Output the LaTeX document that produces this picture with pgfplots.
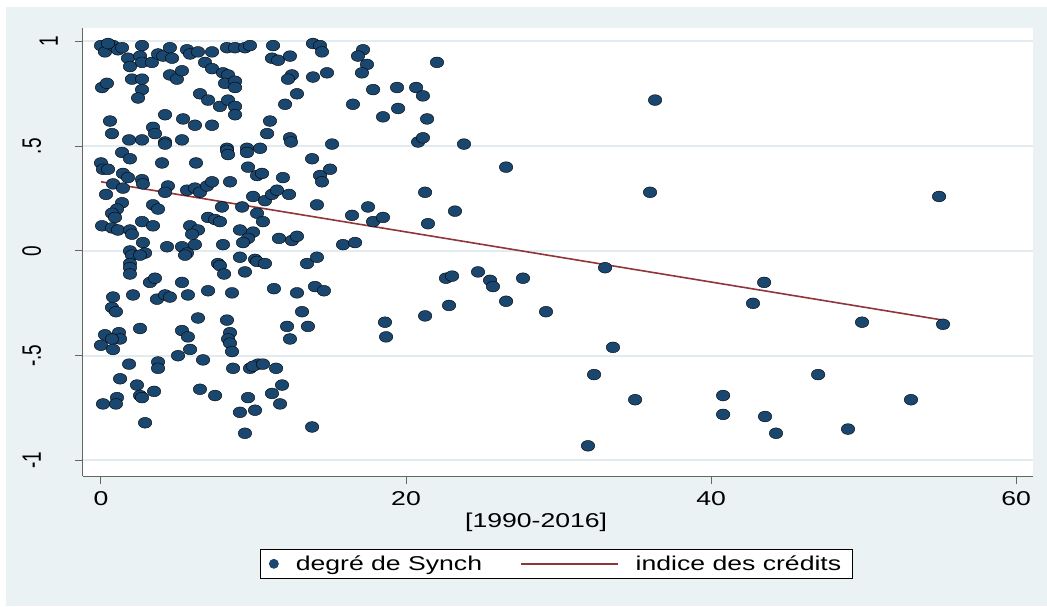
\documentclass[border=0pt]{standalone}
\usepackage{pgfplots}
\pgfplotsset{compat=1.18}
\usepackage{fontspec}
\usepackage{graphicx}
\setmainfont{Liberation Sans}[FakeStretch=1.33]
\newfontfamily\plainsans{Liberation Sans}
\definecolor{navy}{RGB}{26,71,111}
\definecolor{maroon}{RGB}{144,53,59}
\definecolor{bgc}{RGB}{234,242,243}
\definecolor{gridc}{RGB}{226,236,240}
\newcommand\yl[1]{\scalebox{1}[1.4]{#1}}
\begin{document}
\begin{tikzpicture}[x=1pt,y=1pt]
\fill[white] (-83,-130) rectangle (964,476);
\fill[bgc] (-77,-130) rectangle (964,469);
\useasboundingbox (-83,-130) rectangle (964,476);
\begin{axis}[
  at={(0pt,0pt)}, anchor=south west,
  scale only axis, width=950pt, height=448pt,
  xmin=-1.18, xmax=61.11, ymin=-1.074, ymax=1.064,
  axis background/.style={fill=white},
  axis x line*=bottom, axis y line*=left,
  axis line style={-, draw=black!60, line width=1pt},
  xtick={0,20,40,60}, xticklabels={0,20,40,60},
  ytick={-1,-0.5,0,0.5,1},
  yticklabels={\yl{-1},\yl{-.5},\yl{0},\yl{.5},\raisebox{-17pt}{\yl{1}}},
  tick align=outside, major tick length=8pt,
  tick style={black!60, line width=1pt},
  ymajorgrids, grid style={gridc, line width=2pt},
  xticklabel style={font=\fontsize{20}{24}\selectfont, yshift=-4pt},
  yticklabel style={font=\plainsans\fontsize{19}{23}\selectfont, xshift=-34pt, rotate=90, anchor=base},
  xlabel={\relax[1990-2016]},
  xlabel style={at={(axis description cs:0.477,0)}, anchor=center, yshift=-46pt, font=\fontsize{20}{24}\selectfont},
  legend style={at={(axis description cs:0.498,-0.196)}, anchor=center, draw=black, line width=0.8pt, fill=white,
    font=\fontsize{20}{24}\selectfont, inner xsep=9pt, inner ysep=4.5pt,
    /tikz/every odd column/.append style={column sep=15pt},
    /tikz/every even column/.append style={column sep=36pt}},
  legend columns=2,
  legend cell align=left,
]
\addplot[only marks, mark=*, mark size=5.4pt, mark options={draw=none, fill=navy, xscale=1.25},
  legend image code/.code={\fill[navy] (6pt,0pt) ellipse [x radius=4.5pt, y radius=4.5pt];}]
coordinates {
(0.00,0.98) (0.26,0.95) (0.79,0.98) (1.11,0.96) (2.69,0.98) (1.77,0.92) (1.90,0.88) (2.56,0.93)
(2.69,0.90) (3.34,0.90) (3.74,0.94) (4.07,0.93) (4.52,0.97) (4.66,0.92) (5.64,0.96) (5.84,0.94)
(6.36,0.95) (7.28,0.95) (6.82,0.90) (7.28,0.87) (8.26,0.97) (8.79,0.97) (9.44,0.97) (8.00,0.85)
(8.33,0.84) (8.13,0.80) (8.79,0.81) (8.79,0.78) (4.52,0.84) (4.98,0.82) (5.31,0.86) (0.07,0.78)
(0.39,0.80) (2.03,0.82) (2.69,0.82) (2.69,0.77) (2.43,0.73) (6.49,0.75) (7.02,0.72) (7.80,0.69)
(8.33,0.72) (8.79,0.69) (8.79,0.65) (4.20,0.65) (5.38,0.63) (6.16,0.60) (7.28,0.60) (0.59,0.62)
(0.72,0.56) (3.41,0.59) (3.54,0.56) (1.84,0.53) (2.69,0.53) (4.20,0.52) (5.31,0.53) (8.26,0.49)
(9.57,0.49) (1.38,0.97) (0.46,0.99)
(0.00,0.42) (0.13,0.39) (0.46,0.39) (1.38,0.47) (1.90,0.44) (1.44,0.37) (1.77,0.35) (2.69,0.34)
(2.75,0.32) (4.00,0.42) (6.23,0.42) (4.20,0.51) (8.26,0.48) (8.33,0.46) (9.57,0.47) (9.64,0.40)
(10.23,0.36) (0.79,0.32) (1.44,0.30) (0.33,0.27) (4.39,0.31) (4.20,0.28) (5.64,0.29) (6.16,0.30)
(6.49,0.28) (6.95,0.31) (7.28,0.33) (8.46,0.33) (7.93,0.21) (9.25,0.21) (9.97,0.26) (10.23,0.18)
(1.38,0.23) (1.05,0.20) (0.72,0.18) (0.92,0.16) (3.41,0.22) (3.74,0.20) (0.07,0.12) (0.72,0.11)
(1.11,0.10) (1.90,0.10) (2.03,0.08) (2.69,0.14) (3.41,0.12) (7.02,0.16) (7.48,0.15) (7.80,0.14)
(5.84,0.12) (6.36,0.10) (5.97,0.08) (9.11,0.10) (9.97,0.09) (9.64,0.06) (9.31,0.04) (2.75,0.04)
(4.33,0.02) (5.31,0.02) (6.16,0.03) (5.64,-0.01) (8.00,0.03) (1.90,0.00) (2.03,-0.02) (2.89,-0.01)
(2.56,-0.02) (9.11,-0.03) (10.10,-0.04) (1.90,-0.06) (7.67,-0.06)
(5.51,-0.02) (10.23,-0.05) (1.90,-0.08) (1.90,-0.11) (7.80,-0.07) (8.07,-0.11) (9.44,-0.10)
(3.21,-0.15) (3.54,-0.13) (5.31,-0.15) (7.02,-0.19) (8.59,-0.20) (0.79,-0.22) (2.10,-0.21)
(3.67,-0.23) (4.20,-0.21) (4.52,-0.22) (5.70,-0.21) (0.72,-0.27) (0.98,-0.29) (6.36,-0.32)
(8.26,-0.33) (2.56,-0.37) (0.26,-0.40) (1.18,-0.39) (1.25,-0.42) (0.72,-0.42) (5.31,-0.38)
(5.70,-0.41) (8.46,-0.39) (8.33,-0.42) (8.46,-0.44) (0.00,-0.45) (0.79,-0.47) (8.59,-0.48)
(5.84,-0.47) (5.05,-0.50) (6.69,-0.52) (1.84,-0.54) (3.74,-0.53) (3.74,-0.56) (8.66,-0.56)
(9.77,-0.56) (10.30,-0.54)
(1.25,-0.61) (2.36,-0.64) (2.56,-0.69) (2.69,-0.70) (3.48,-0.67) (1.05,-0.70) (0.98,-0.73)
(0.13,-0.73) (6.49,-0.66) (7.48,-0.69) (9.64,-0.70) (9.11,-0.77) (10.10,-0.76) (2.89,-0.82)
(9.44,-0.87)
(9.77,0.98) (11.28,0.98) (13.90,0.99) (14.36,0.98) (14.49,0.95) (11.21,0.92) (11.61,0.91)
(12.39,0.93) (17.18,0.96) (16.85,0.93) (17.44,0.89) (12.52,0.84) (12.26,0.82) (13.90,0.83)
(14.82,0.85) (17.11,0.85) (12.85,0.75) (12.07,0.70) (17.84,0.77) (19.41,0.78) (20.66,0.78)
(21.11,0.74) (16.52,0.70) (18.49,0.64) (19.48,0.68) (21.38,0.63) (11.08,0.62) (10.89,0.56)
(12.39,0.54) (12.46,0.52) (15.15,0.51) (10.43,0.49) (20.79,0.52) (21.11,0.54) (22.03,0.90)
(13.84,0.44) (10.56,0.37) (11.93,0.35) (14.36,0.36) (15.02,0.39) (14.49,0.33) (10.75,0.24)
(11.21,0.27) (11.54,0.29) (12.33,0.27) (14.16,0.22) (10.62,0.14) (16.46,0.17) (17.51,0.21)
(17.84,0.14) (18.49,0.16) (21.25,0.28) (21.44,0.13) (11.67,0.06) (12.52,0.05) (12.85,0.07)
(15.87,0.03) (16.66,0.04) (10.75,-0.06) (13.51,-0.06) (14.16,-0.03)
(11.34,-0.18) (12.85,-0.20) (14.03,-0.17) (14.62,-0.19) (13.18,-0.29) (12.20,-0.36) (13.57,-0.36)
(12.39,-0.42) (18.62,-0.34) (18.69,-0.41) (21.25,-0.31) (9.97,-0.55) (10.62,-0.54) (11.48,-0.56)
(11.87,-0.64) (11.21,-0.68) (11.74,-0.73) (13.84,-0.84)
(23.80,0.51) (23.21,0.19) (26.56,0.40) (36.33,0.72) (36.00,0.28) (54.95,0.26) (22.62,-0.13)
(23.02,-0.12) (24.72,-0.10) (25.51,-0.14) (25.70,-0.17) (27.67,-0.13) (26.56,-0.24) (22.82,-0.26)
(29.18,-0.29) (33.05,-0.08) (43.48,-0.15) (42.75,-0.25) (49.90,-0.34) (55.21,-0.35) (33.57,-0.46)
(32.33,-0.59) (47.02,-0.59) (35.02,-0.71) (40.79,-0.69) (53.11,-0.71) (40.79,-0.78) (43.54,-0.79)
(44.26,-0.87) (48.98,-0.85) (31.93,-0.93)
};
\addlegendentry{degré de Synch}
\addplot[maroon, line width=1.6pt, no marks,
  legend image code/.code={\draw[maroon, line width=1.6pt] (0pt,0pt) -- (97pt,0pt);}]
coordinates {(0,0.33) (55.2,-0.33)};
\addlegendentry{indice des crédits}
\end{axis}
\end{tikzpicture}
\end{document}
